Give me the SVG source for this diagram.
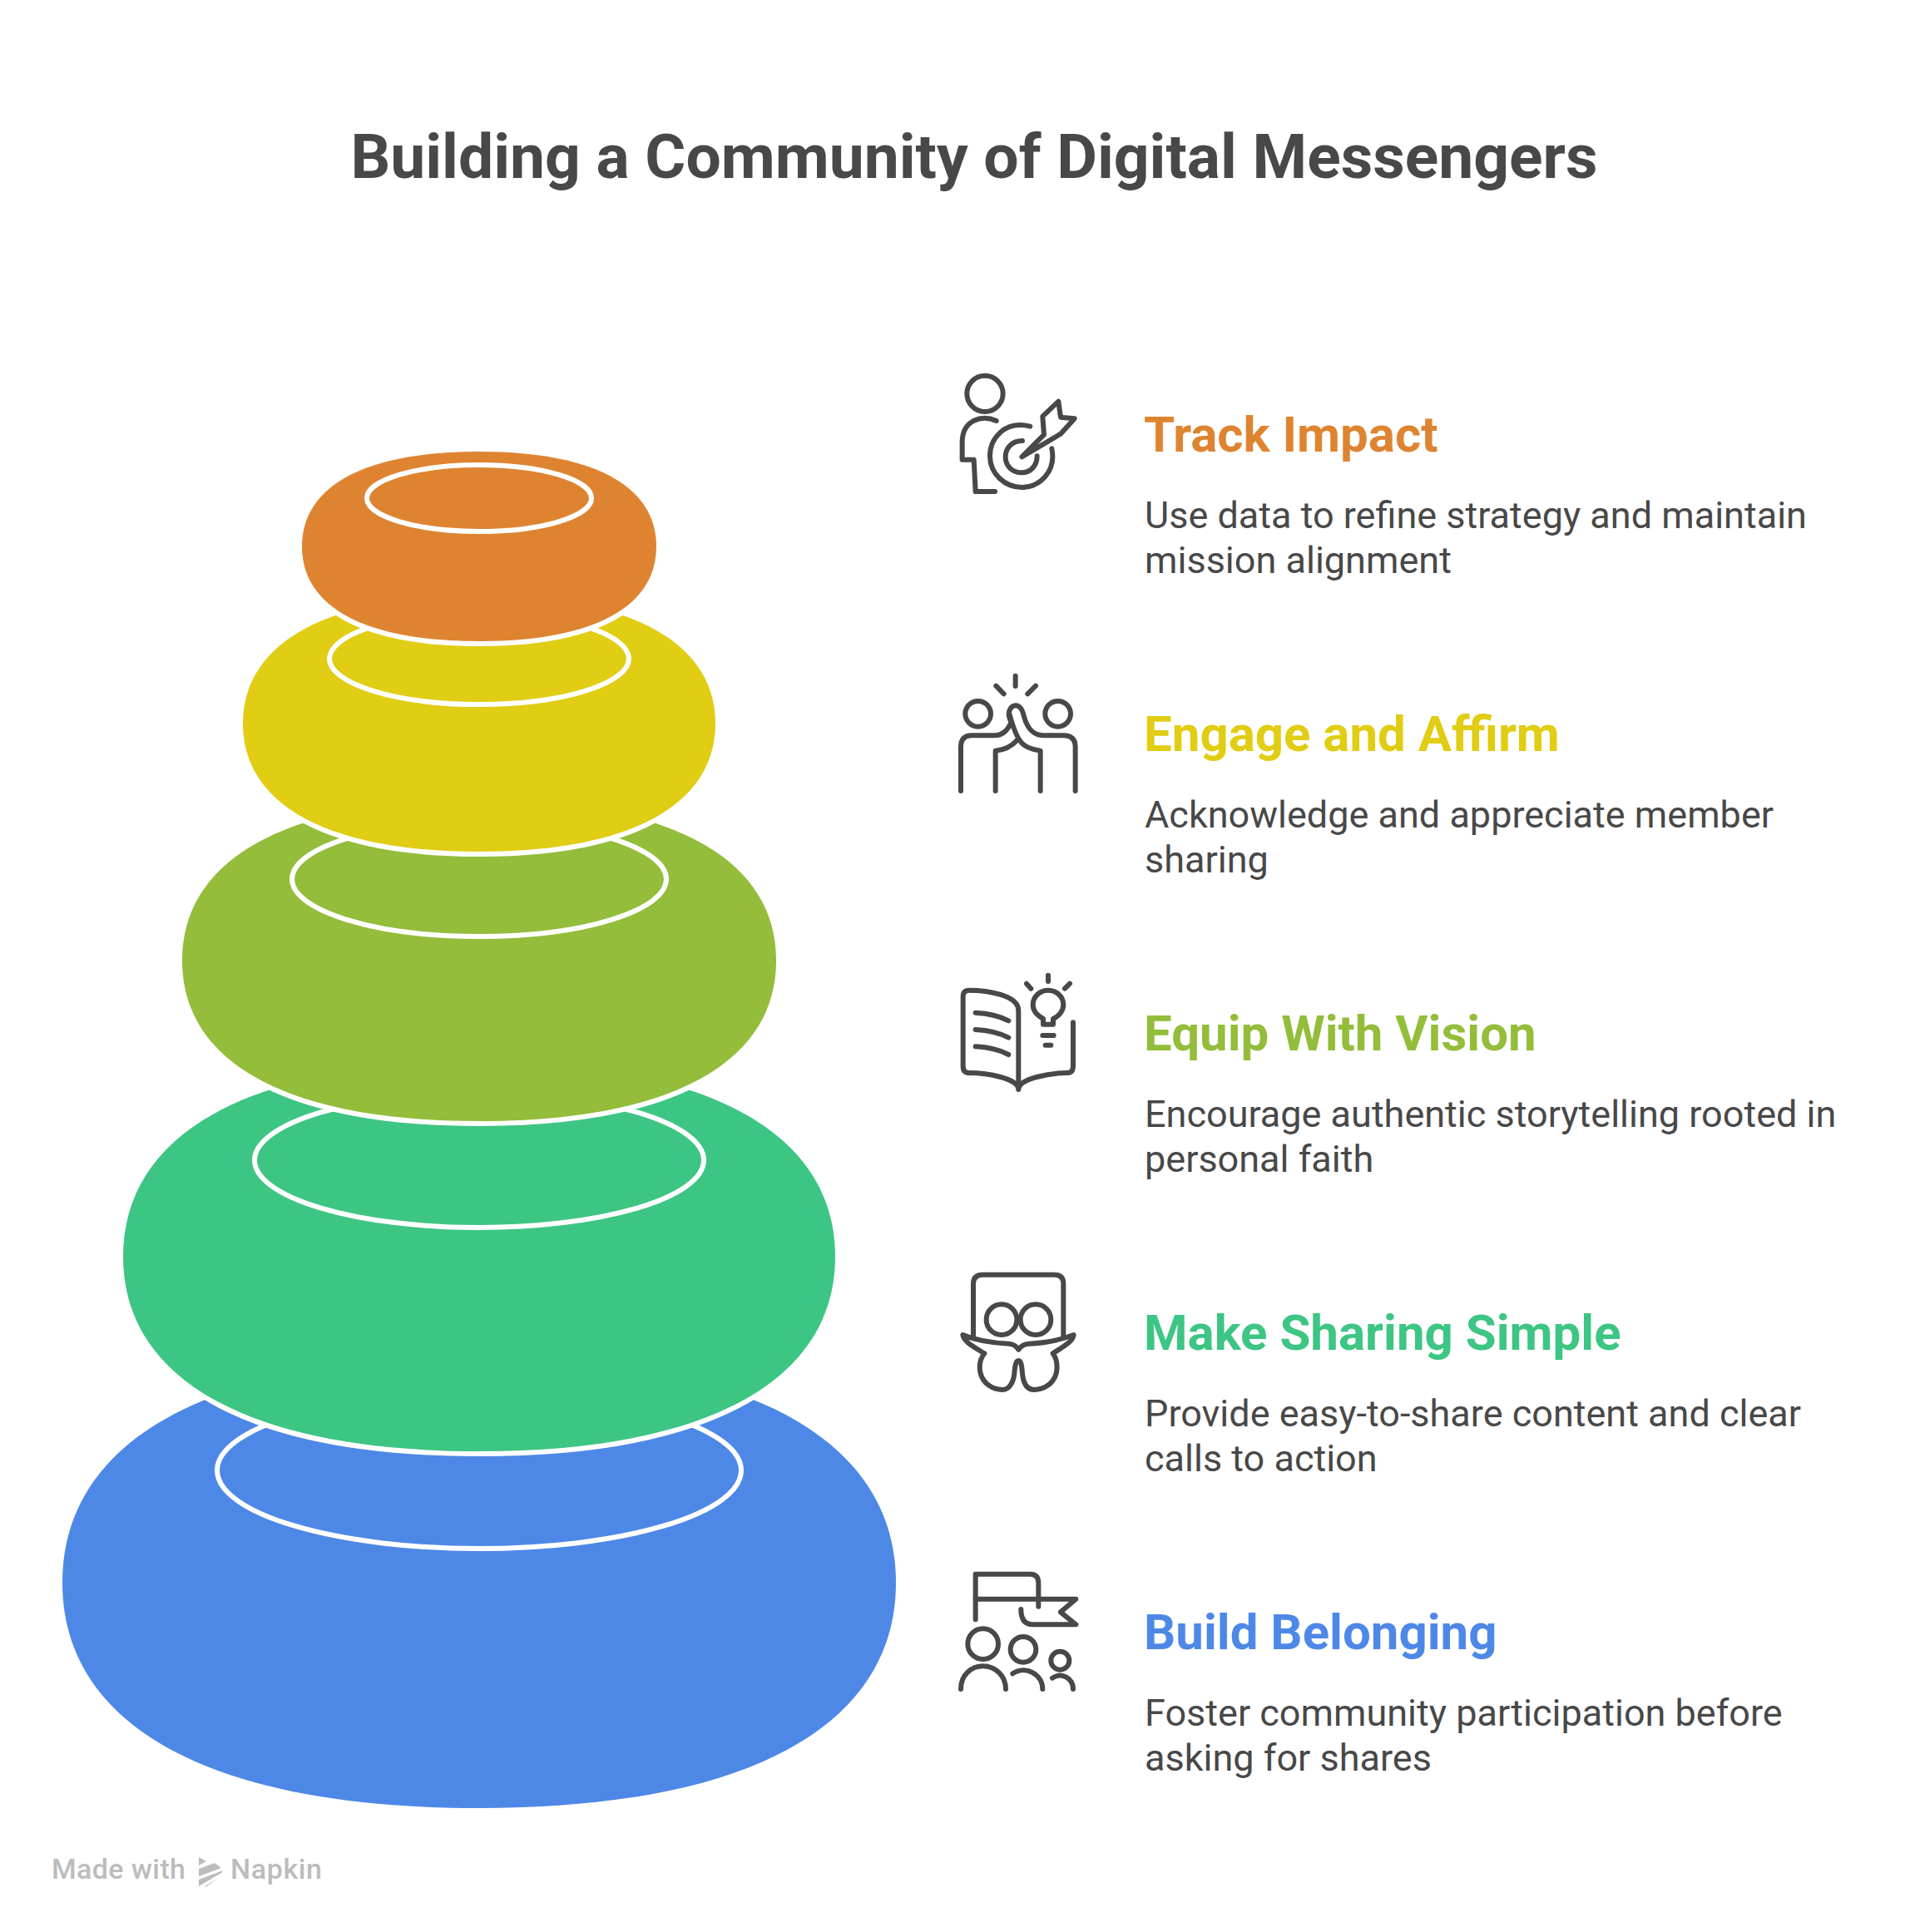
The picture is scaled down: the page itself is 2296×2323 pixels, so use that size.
<svg xmlns="http://www.w3.org/2000/svg" width="2296" height="2323" viewBox="0 0 2296 2323">
<style>
text{font-family:Roboto,"Liberation Sans",sans-serif}
.title{font-size:75px;font-weight:700;fill:#484848}
.h{font-size:60px;font-weight:700}
.b{font-size:45px;fill:#484848}
.ring{fill:none;stroke:#fff;stroke-width:6}
.disc{stroke:#fff;stroke-width:12;paint-order:stroke}
.ic{fill:none;stroke:#484848;stroke-width:18;stroke-linecap:round;stroke-linejoin:round}
.wm{font-size:34px;fill:#bcbcbc;font-weight:500}
</style>
<rect width="2296" height="2323" fill="#fff"/>
<text class="title" x="1171" y="214" text-anchor="middle">Building a Community of Digital Messengers</text>
<g id="stack-blue"><path class="disc" fill="#4e88e7" d="M576 1632C245 1632 75 1735 75 1903C75 2071 245 2174 576 2174C907 2174 1077 2071 1077 1903C1077 1735 907 1632 576 1632Z"/><ellipse class="ring" cx="576" cy="1768" rx="315" ry="94"/></g>
<g id="stack-teal"><path class="disc" fill="#3dc583" d="M576 1277C294 1277 148 1366 148 1511C148 1656 294 1745 576 1745C858 1745 1004 1656 1004 1511C1004 1366 858 1277 576 1277Z"/><ellipse class="ring" cx="576" cy="1395" rx="270" ry="81"/></g>
<g id="stack-olive"><path class="disc" fill="#93bd3a" d="M576 962C340 962 219 1035 219 1155C219 1275 340 1348 576 1348C812 1348 933 1275 933 1155C933 1035 812 962 576 962Z"/><ellipse class="ring" cx="576" cy="1057" rx="225" ry="69"/></g>
<g id="stack-yellow"><path class="disc" fill="#e0cd14" d="M576 716C389 716 292 775 292 870C292 965 389 1024 576 1024C763 1024 860 965 860 870C860 775 763 716 576 716Z"/><ellipse class="ring" cx="576" cy="792" rx="180" ry="55"/></g>
<g id="stack-orange"><path class="disc" fill="#de8431" d="M576 543C435 543 363 586 363 657C363 728 435 771 576 771C717 771 789 728 789 657C789 586 717 543 576 543Z"/><ellipse class="ring" cx="576" cy="599" rx="135" ry="40"/></g>

<g id="item-track">
<g class="ic" transform="translate(1130 430) scale(.3333)"><circle cx="162" cy="130" r="65"/><path d="M203 228C150 205 83 225 80 300L80 368L122 368L128 483L198 483"/><path d="M325 248C230 225 180 295 180 355C180 420 235 468 295 468C360 468 420 410 403 328"/><path d="M297 300C260 300 236 325 236 358C236 392 262 415 295 415C325 415 350 392 350 355"/><path d="M295 358L375 278L370 212L427 158L435 215L485 220L435 275Z"/></g>
<text class="h" x="1375" y="543" fill="#de8431">Track Impact</text>
<text class="b" x="1376" y="635">Use data to refine strategy and maintain</text>
<text class="b" x="1376" y="689">mission alignment</text>
</g>
<g id="item-engage">
<g class="ic" transform="translate(1130 790) scale(.3333)"><circle cx="137" cy="205" r="46"/><circle cx="425" cy="205" r="46"/><path d="M272 68V105M202 104L230 133M345 104L316 133"/><path d="M75 483V325Q75 283 115 283H195C235 283 250 250 257 235C235 195 260 175 272 175C300 175 300 215 310 235C325 270 345 283 375 283H445Q488 283 488 325V483"/><path d="M250 205C265 260 280 300 300 315C320 332 345 335 362 338V483"/><path d="M200 483V338C235 335 260 320 278 300"/></g>
<text class="h" x="1375" y="903" fill="#e0cd14">Engage and Affirm</text>
<text class="b" x="1376" y="995">Acknowledge and appreciate member</text>
<text class="b" x="1376" y="1049">sharing</text>
</g>
<g id="item-equip">
<g class="ic" transform="translate(1130 1150) scale(.3333)"><path d="M283 470V195C283 140 170 122 105 122Q83 122 83 145V395Q83 420 105 420C170 420 283 440 283 480C283 440 400 420 458 420Q480 420 480 395V238"/><path d="M128 203C170 205 215 215 247 232M128 264C170 266 215 276 247 293M128 325C170 327 215 337 247 354"/><path d="M372 245V225C345 210 335 195 335 175C335 145 360 122 390 122C420 122 445 145 445 175C445 195 430 215 408 225V245Z"/><path d="M370 285H410M380 320H400M390 68V90M312 98L328 116M468 98L450 116"/></g>
<text class="h" x="1375" y="1263" fill="#93bd3a">Equip With Vision</text>
<text class="b" x="1376" y="1355">Encourage authentic storytelling rooted in</text>
<text class="b" x="1376" y="1409">personal faith</text>
</g>
<g id="item-share">
<g class="ic" transform="translate(1130 1510) scale(.3333)"><path d="M120 295V100Q120 68 155 68H410Q445 68 445 100V295"/><circle cx="222" cy="230" r="55"/><circle cx="345" cy="230" r="55"/><path d="M82 285C130 305 200 315 250 317C265 318 278 330 283 338C290 328 300 318 320 317C370 315 430 305 482 285C480 310 440 330 407 352C420 370 425 390 420 420C410 465 370 483 340 483C310 483 300 455 297 425C295 395 292 378 283 378C274 378 270 395 268 425C265 455 250 483 225 483C195 483 155 465 145 420C140 390 145 370 160 352C125 330 85 310 82 285Z"/></g>
<text class="h" x="1375" y="1623" fill="#3dc583">Make Sharing Simple</text>
<text class="b" x="1376" y="1715">Provide easy-to-share content and clear</text>
<text class="b" x="1376" y="1769">calls to action</text>
</g>
<g id="item-build">
<g class="ic" transform="translate(1130 1870) scale(.3333)"><path d="M128 232V68H325Q355 68 355 100V185"/><path d="M128 158H490L435 205L490 250H335Q292 250 292 195"/><circle cx="155" cy="320" r="55"/><circle cx="300" cy="340" r="46"/><circle cx="433" cy="380" r="33"/><path d="M75 483C75 430 115 400 155 400C200 400 237 435 237 483M262 427C310 395 370 430 370 483M405 443C440 420 480 445 480 483"/></g>
<text class="h" x="1375" y="1983" fill="#4e88e7">Build Belonging</text>
<text class="b" x="1376" y="2075">Foster community participation before</text>
<text class="b" x="1376" y="2129">asking for shares</text>
</g>
<g id="watermark">
<text class="wm" x="62" y="2259" textLength="161" lengthAdjust="spacing">Made with</text>
<g fill="#bcbcbc"><path d="M239 2233L248 2238L239 2243Z"/><path d="M239 2247L258 2240L266 2246L239 2256Z"/><path d="M239 2260L268 2249L266 2252L239 2268Z"/><path d="M246 2268L262 2258L247 2269Z"/></g>
<text class="wm" x="277" y="2259" textLength="110" lengthAdjust="spacing">Napkin</text>
</g>
</svg>
